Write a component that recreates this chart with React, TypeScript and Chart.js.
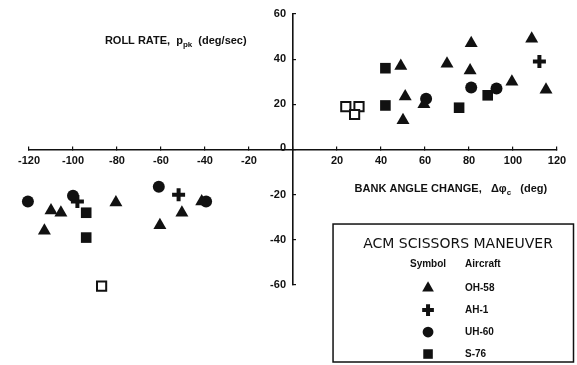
import { useEffect, useRef } from "react";
import { Chart, registerables } from "chart.js";
import { drawPoint } from "chart.js/helpers";

Chart.register(...registerables);

// ---- data ----
const xTickValues = [-120, -100, -80, -60, -40, -20, 0, 20, 40, 60, 80, 100, 120];
const yTickValues = [-60, -40, -20, 0, 20, 40, 60];

const oh58X = [49, 51, 50, 59.5, 70, 81, 80.5, 99.5, 108.5, 115, -110, -105.5, -113, -80.5, -60.5, -50.5, -41.5];
const oh58Y = [37, 23.5, 13, 20, 38, 47, 35, 30, 49, 26.5, -27, -28, -36, -23.5, -33.5, -28, -23];
const ah1X = [112, -52, -98];
const ah1Y = [39, -20, -23];
const uh60X = [60.5, 81, 92.5, 128, -120.5, -100, -61, -39.5];
const uh60Y = [22.5, 27.5, 27, 30, -23, -20.5, -16.5, -23];
const s76X = [42, 42, 75.5, 88.5, -94, -94];
const s76Y = [36, 19.5, 18.5, 24, -28, -39];
const openX = [24, 30, 28, -87];
const openY = [19, 19, 15.5, -60.5];

const aircraft = ["OH-58", "AH-1", "UH-60", "S-76"];
const legendTitle = "ACM SCISSORS MANEUVER";
const legendHeaders = ["Symbol", "Aircraft"];
const yTitle = ["ROLL RATE,  p", "pk", "  (deg/sec)"];
const xTitle = ["BANK ANGLE CHANGE,   Δφ", "c", "   (deg)"];

const INK = "#111";
const FONT = '"Liberation Sans", Arial, sans-serif';

const pts = (xs: number[], ys: number[]) => xs.map((x, i) => ({ x, y: ys[i] }));

const styles = [
  { pointStyle: "triangle", radius: 7.5, borderWidth: 0 },
  { pointStyle: "cross", radius: 6.5, borderWidth: 4 },
  { pointStyle: "circle", radius: 6, borderWidth: 0 },
  { pointStyle: "rect", radius: 7.5, borderWidth: 0 },
];

function drawSubText(ctx: CanvasRenderingContext2D, parts: string[], x: number, y: number, size: number) {
  ctx.textAlign = "left";
  ctx.textBaseline = "middle";
  ctx.font = `bold ${size}px ${FONT}`;
  ctx.fillText(parts[0], x, y);
  let cx = x + ctx.measureText(parts[0]).width;
  ctx.font = `bold ${size - 3}px ${FONT}`;
  ctx.fillText(parts[1], cx, y + 4);
  cx += ctx.measureText(parts[1]).width;
  ctx.font = `bold ${size}px ${FONT}`;
  ctx.fillText(parts[2], cx, y);
}

const overlay = {
  id: "overlay",
  afterDraw(chart: any) {
    const ctx: CanvasRenderingContext2D = chart.ctx;
    const xs = chart.scales.x;
    const ys = chart.scales.y;
    ctx.save();
    ctx.fillStyle = INK;
    ctx.strokeStyle = INK;

    // y tick labels, left of the centred axis
    const axisX = xs.getPixelForValue(0);
    ctx.font = `bold 11px ${FONT}`;
    ctx.textAlign = "right";
    ctx.textBaseline = "middle";
    yTickValues.forEach((v) => {
      ctx.fillText(String(v), axisX - 7, ys.getPixelForValue(v) + (v === 0 ? -2 : 0));
    });

    // axis titles
    drawSubText(ctx, yTitle, xs.getPixelForValue(-85.5), ys.getPixelForValue(48), 11);
    drawSubText(ctx, xTitle, xs.getPixelForValue(28), ys.getPixelForValue(-17.5), 11);

    // legend box
    const left = xs.getPixelForValue(18.2);
    const right = xs.getPixelForValue(127.5);
    const top = ys.getPixelForValue(-33);
    const bottom = 362;
    ctx.lineWidth = 1.5;
    ctx.strokeRect(left, top, right - left, bottom - top);
    ctx.textAlign = "center";
    ctx.textBaseline = "middle";
    ctx.font = `14px "DejaVu Sans", ${FONT}`;
    ctx.fillText(legendTitle, left + 125, top + 20);
    const symX = left + 95;
    const nameX = left + 132;
    ctx.font = `bold 10px ${FONT}`;
    ctx.fillText(legendHeaders[0], symX, top + 40);
    ctx.textAlign = "left";
    ctx.fillText(legendHeaders[1], nameX, top + 40);
    aircraft.forEach((name, i) => {
      const y = top + 64 + i * 22;
      const st = styles[i];
      ctx.fillStyle = INK;
      ctx.strokeStyle = INK;
      ctx.lineWidth = st.borderWidth;
      drawPoint(ctx, { pointStyle: st.pointStyle as any, radius: st.radius * 0.9, rotation: 0, borderWidth: st.borderWidth }, symX, y);
      ctx.font = `bold 10px ${FONT}`;
      ctx.textAlign = "left";
      ctx.fillText(name, nameX, y);
    });
    ctx.restore();
  },
};

export default function App() {
  const ref = useRef<HTMLCanvasElement>(null);
  useEffect(() => {
    if (!ref.current) return;
    const mk = (label: string, xs: number[], ys: number[], i: number) => ({
      label,
      data: pts(xs, ys),
      pointStyle: styles[i].pointStyle,
      pointRadius: styles[i].radius,
      pointHoverRadius: styles[i].radius,
      pointBorderWidth: styles[i].borderWidth,
      backgroundColor: INK,
      borderColor: INK,
      clip: false,
    });
    const chart = new Chart(ref.current, {
      type: "scatter",
      data: {
        datasets: [
          mk(aircraft[0], oh58X, oh58Y, 0),
          mk(aircraft[1], ah1X, ah1Y, 1),
          mk(aircraft[2], uh60X, uh60Y, 2),
          mk(aircraft[3], s76X, s76Y, 3),
          {
            label: "open",
            data: pts(openX, openY),
            pointStyle: "rect",
            pointRadius: 6.5,
            pointBorderWidth: 2,
            backgroundColor: "#fff",
            borderColor: INK,
            clip: false,
          } as any,
        ],
      },
      options: {
        animation: false,
        responsive: false,
        events: [],
        layout: { padding: { left: 29, right: 20, top: 14, bottom: 80 } },
        plugins: { legend: { display: false }, tooltip: { enabled: false }, title: { display: false } },
        scales: {
          x: {
            type: "linear",
            min: -120,
            max: 120,
            position: { y: 0 } as any,
            afterFit: (s: any) => { s.height = 0; },
            afterBuildTicks: (s: any) => { s.ticks = xTickValues.map((v) => ({ value: v })); },
            ticks: {
              callback: (v: any) => (v === 0 ? "" : String(v)),
              font: { size: 11, weight: "bold", family: FONT },
              color: INK,
              padding: 9,
              maxRotation: 0,
              autoSkip: false,
            },
            grid: { drawOnChartArea: false, drawTicks: true, tickLength: -4, color: INK, lineWidth: 1.2 },
            border: { display: true, color: INK, width: 1.6 },
          },
          y: {
            type: "linear",
            min: -60,
            max: 60,
            position: { x: 0 } as any,
            afterFit: (s: any) => { s.width = 0; },
            afterBuildTicks: (s: any) => { s.ticks = yTickValues.map((v) => ({ value: v })); },
            ticks: { display: false },
            grid: { drawOnChartArea: false, drawTicks: true, tickLength: -4, color: INK, lineWidth: 1.2 },
            border: { display: true, color: INK, width: 1.6 },
          },
        },
      },
      plugins: [overlay],
    });
    return () => chart.destroy();
  }, []);
  return (
    <div style={{ position: "absolute", left: 0, top: 0, width: 577, height: 365, background: "#fff" }}>
      <canvas ref={ref} width={577} height={365} />
    </div>
  );
}
